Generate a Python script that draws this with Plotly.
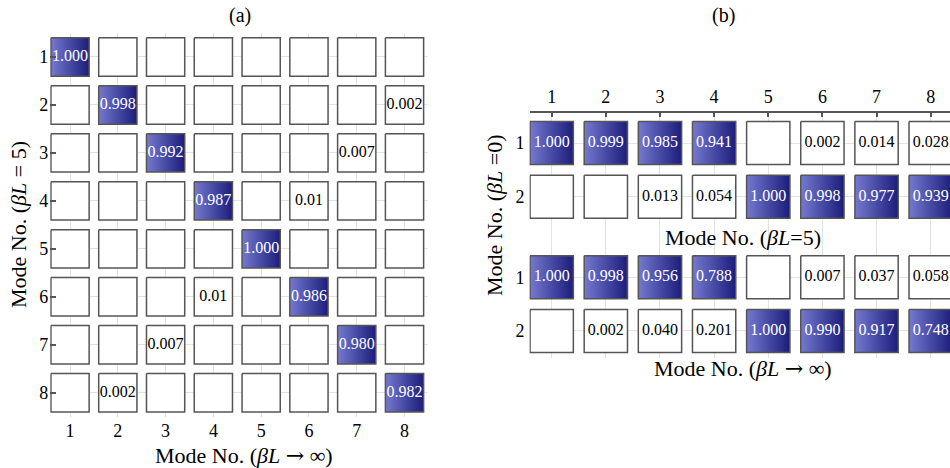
import plotly.graph_objects as go

# ---------------------------------------------------------------- data
# Panel (a): overlap of mode shapes, rows = beta*L = 5, cols = beta*L -> inf
modes = [1, 2, 3, 4, 5, 6, 7, 8]
mac_a = [
    ["1.000", "", "", "", "", "", "", ""],
    ["", "0.998", "", "", "", "", "", "0.002"],
    ["", "", "0.992", "", "", "", "0.007", ""],
    ["", "", "", "0.987", "", "0.01", "", ""],
    ["", "", "", "", "1.000", "", "", ""],
    ["", "", "", "0.01", "", "0.986", "", ""],
    ["", "", "0.007", "", "", "", "0.980", ""],
    ["", "0.002", "", "", "", "", "", "0.982"],
]

# Panel (b): rows = beta*L = 0 modes 1-2
mac_b_top = [  # columns: beta*L = 5
    ["1.000", "0.999", "0.985", "0.941", "", "0.002", "0.014", "0.028"],
    ["", "", "0.013", "0.054", "1.000", "0.998", "0.977", "0.939"],
]
mac_b_bottom = [  # columns: beta*L -> inf
    ["1.000", "0.998", "0.956", "0.788", "", "0.007", "0.037", "0.058"],
    ["", "0.002", "0.040", "0.201", "1.000", "0.990", "0.917", "0.748"],
]
b_row_labels = ["1", "2", "1", "2"]
b_row_pos = [1, 2, 3.5, 4.5]

# ---------------------------------------------------------------- style
FONT = "Liberation Serif, Times New Roman, serif"
EDGE = "#555555"
GRID = "#e3e3e3"
BLUE_LIGHT = "#7579cf"
BLUE_DARK = "#1b1d7a"
CELL = 0.8          # square side as a fraction of the cell pitch
THRESH = 0.5        # values above this are highlighted

fig = go.Figure()


def add_cell(x, y, label, xa, ya):
    h = CELL / 2
    val = float(label) if label else 0.0
    hi = val > THRESH
    kw = dict(
        x=[x - h, x + h, x + h, x - h, x - h],
        y=[y - h, y - h, y + h, y + h, y - h],
        mode="lines", fill="toself",
        line=dict(color=EDGE, width=1.5),
        hoverinfo="skip", showlegend=False,
        xaxis=xa, yaxis=ya,
    )
    if hi:
        kw["fillgradient"] = dict(
            type="horizontal",
            colorscale=[[0, BLUE_LIGHT], [1, BLUE_DARK]],
        )
    else:
        kw["fillcolor"] = "white"
    fig.add_trace(go.Scatter(**kw))
    if label:
        fig.add_trace(go.Scatter(
            x=[x], y=[y], mode="text", text=[label],
            textfont=dict(family=FONT, size=16,
                          color="white" if hi else "black"),
            hoverinfo="skip", showlegend=False, xaxis=xa, yaxis=ya,
        ))


# panel (a)
for r, row in enumerate(mac_a):
    for c, lab in enumerate(row):
        add_cell(modes[c], modes[r], lab, "x", "y")

# panel (b)
for block, offset in ((mac_b_top, 0), (mac_b_bottom, 2)):
    for r, row in enumerate(block):
        for c, lab in enumerate(row):
            add_cell(modes[c], b_row_pos[offset + r], lab, "x2", "y2")

W, H = 950, 468
tickfont = dict(family=FONT, size=18, color="black")

fig.update_layout(
    width=W, height=H,
    margin=dict(l=0, r=0, t=0, b=0),
    paper_bgcolor="white", plot_bgcolor="white",
    font=dict(family=FONT, color="black"),
    xaxis=dict(
        domain=[50.2 / W, 428.4 / W], range=[0.585, 8.5],
        tickvals=modes, ticktext=[str(m) for m in modes],
        showgrid=True, gridcolor=GRID, gridwidth=1,
        zeroline=False, showline=False, ticks="",
        tickfont=tickfont, ticklabelstandoff=1,
    ),
    yaxis=dict(
        domain=[1 - 416.7 / H, 1 - 33 / H], range=[8.5, 0.5],
        tickvals=modes, ticktext=[str(m) for m in modes],
        showgrid=True, gridcolor=GRID, gridwidth=1,
        zeroline=False, showline=False,
        ticks="inside", ticklen=6, tickcolor=EDGE, tickwidth=1.5,
        tickfont=tickfont, ticklabelstandoff=1,
    ),
    xaxis2=dict(
        domain=[529.5 / W, 1.0], range=[0.59, 8.357],
        anchor="y2", side="top",
        tickvals=modes, ticktext=[str(m) for m in modes],
        showgrid=True, gridcolor=GRID, gridwidth=1,
        zeroline=False, showline=True, linecolor=EDGE, linewidth=1.5,
        ticks="inside", ticklen=4, tickcolor=EDGE, tickwidth=1.5,
        tickfont=tickfont, ticklabelstandoff=1,
    ),
    yaxis2=dict(
        domain=[1 - 358 / H, 1 - 113 / H], range=[5.003, 0.441],
        anchor="x2",
        tickvals=b_row_pos, ticktext=b_row_labels,
        showgrid=True, gridcolor=GRID, gridwidth=1,
        zeroline=False, showline=False, ticks="",
        tickfont=tickfont, ticklabelstandoff=4,
    ),
)

# wider arrow glyph for the limit symbol
ARROW = '<span style="font-family:DejaVu Serif">→</span>'
INF_LABEL = f"Mode No. (<i>βL</i> {ARROW} ∞)"

title_font = dict(family=FONT, size=22, color="black")
ann = [
    dict(x=240 / W, y=1 - 16 / H, text="(a)", font=dict(family=FONT, size=20)),
    dict(x=723 / W, y=1 - 16 / H, text="(b)", font=dict(family=FONT, size=20)),
    dict(x=244 / W, y=1 - 455 / H, text=INF_LABEL, font=title_font),
    dict(x=18 / W, y=1 - 225 / H, text="Mode No. (<i>βL</i> = 5)",
         font=title_font, textangle=-90),
    dict(x=743 / W, y=1 - 237 / H, text="Mode No. (<i>βL</i>=5)", font=title_font),
    dict(x=743 / W, y=1 - 368 / H, text=INF_LABEL, font=title_font),
    dict(x=494 / W, y=1 - 216 / H, text="Mode No. (<i>βL</i> =0)",
         font=title_font, textangle=-90),
]
for a in ann:
    fig.add_annotation(xref="paper", yref="paper", showarrow=False,
                       xanchor="center", yanchor="middle", **a)

fig.write_html("out.html")
